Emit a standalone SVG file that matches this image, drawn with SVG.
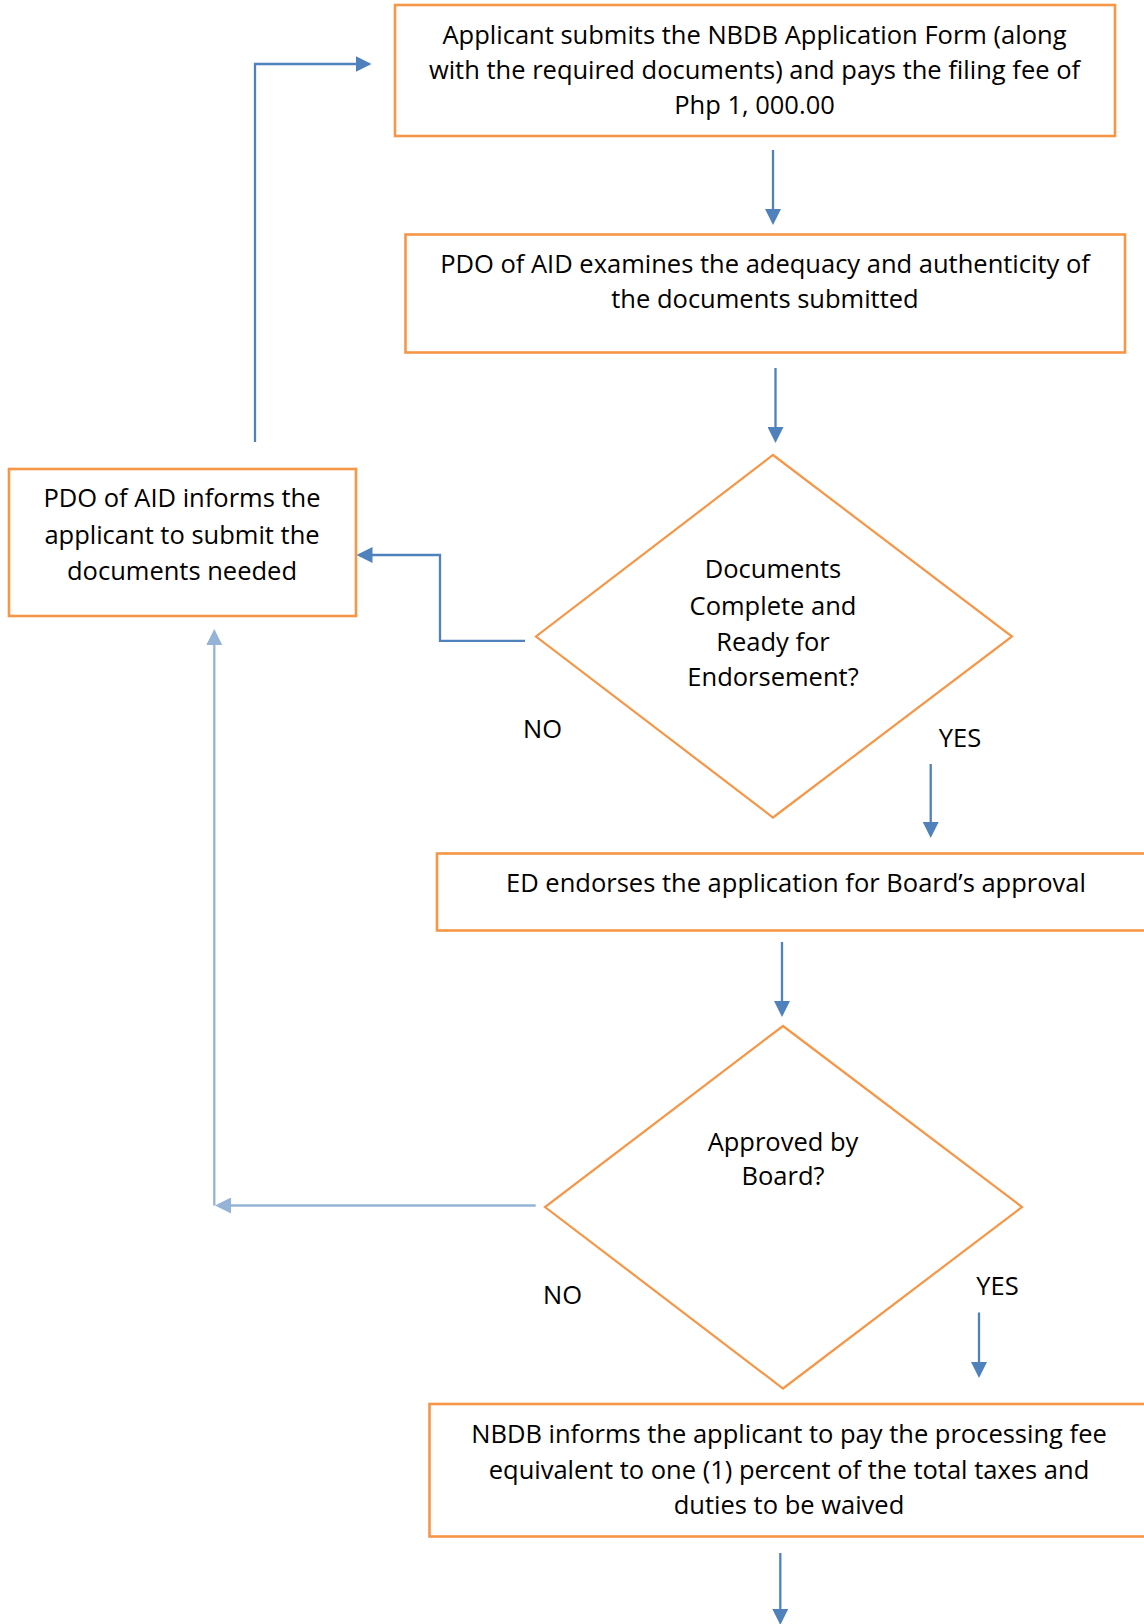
<svg xmlns="http://www.w3.org/2000/svg" width="1144" height="1624" viewBox="0 0 1144 1624">
<style>
.box{fill:#fff;stroke:#F79646;stroke-width:2.6}
.dia{fill:#fff;stroke:#F79646;stroke-width:2.2}
.t{font-family:"Open Sans","Liberation Sans",sans-serif;font-size:25.5px;fill:#000;text-anchor:middle}
.c{fill:none;stroke:#4F81BD;stroke-width:2.3}
.cl{fill:none;stroke:#95B3D7;stroke-width:2.3}
</style>
<defs>
<marker id="ah" markerUnits="userSpaceOnUse" viewBox="0 0 16 16" refX="13" refY="8" markerWidth="16" markerHeight="16" orient="auto"><path d="M0,0 L16,8 L0,16 z" fill="#4F81BD"/></marker>
<marker id="ahl" markerUnits="userSpaceOnUse" viewBox="0 0 16 16" refX="13" refY="8" markerWidth="16" markerHeight="16" orient="auto"><path d="M0,0 L16,8 L0,16 z" fill="#95B3D7"/></marker>
</defs>
<rect width="1144" height="1624" fill="#fff"/>
<g id="connectors">
<path class="c" d="M773,150 V222" marker-end="url(#ah)"/>
<path class="c" d="M775.5,368 V440" marker-end="url(#ah)"/>
<path class="c" d="M525,640.8 H440 V555 H359.5" marker-end="url(#ah)"/>
<path class="c" d="M930.7,764 V835" marker-end="url(#ah)"/>
<path class="c" d="M782,942 V1014" marker-end="url(#ah)"/>
<path class="cl" d="M535.7,1205.5 H218" marker-end="url(#ahl)"/>
<path class="cl" d="M214.3,1205.5 V632" marker-end="url(#ahl)"/>
<path class="c" d="M979,1312.5 V1375" marker-end="url(#ah)"/>
<path class="c" d="M780.3,1553 V1622" marker-end="url(#ah)"/>
<path class="c" d="M255,442 V64 H368.5" marker-end="url(#ah)"/>
</g>
<g id="n1">
<rect class="box" x="395" y="5" width="720" height="131"/>
<text class="t" x="754.5" y="44.3">Applicant submits the NBDB Application Form (along</text>
<text class="t" x="754.5" y="79.3">with the required documents) and pays the filing fee of</text>
<text class="t" x="754.5" y="114.3">Php 1, 000.00</text>
</g>
<g id="n2">
<rect class="box" x="405.5" y="234.5" width="719.5" height="118"/>
<text class="t" x="765" y="273.3">PDO of AID examines the adequacy and authenticity of</text>
<text class="t" x="765" y="308.3">the documents submitted</text>
</g>
<g id="d1">
<polygon class="dia" points="773,455 1012,636.5 773,817.5 536,636.5"/>
<text class="t" x="773" y="578.3">Documents</text>
<text class="t" x="773" y="614.5">Complete and</text>
<text class="t" x="773" y="650.5">Ready for</text>
<text class="t" x="773" y="686.3">Endorsement?</text>
</g>
<g id="n3">
<rect class="box" x="9" y="469" width="347" height="147"/>
<text class="t" x="182" y="507">PDO of AID informs the</text>
<text class="t" x="182" y="543.5">applicant to submit the</text>
<text class="t" x="182" y="579.5">documents needed</text>
</g>
<g id="n4">
<rect class="box" x="437" y="853.5" width="720" height="77"/>
<text class="t" x="796" y="891.7">ED endorses the application for Board’s approval</text>
</g>
<g id="d2">
<polygon class="dia" points="783,1026 1022,1207 783,1388.5 545,1207"/>
<text class="t" x="783" y="1150.7">Approved by</text>
<text class="t" x="783" y="1185">Board?</text>
</g>
<g id="n5">
<rect class="box" x="429.5" y="1404" width="719" height="132.5"/>
<text class="t" x="789" y="1443">NBDB informs the applicant to pay the processing fee</text>
<text class="t" x="789" y="1479">equivalent to one (1) percent of the total taxes and</text>
<text class="t" x="789" y="1514">duties to be waived</text>
</g>
<g id="labels">
<text class="t" x="542.5" y="737.5">NO</text>
<text class="t" x="960" y="747">YES</text>
<text class="t" x="562.5" y="1304">NO</text>
<text class="t" x="997.5" y="1295">YES</text>
</g>
</svg>
